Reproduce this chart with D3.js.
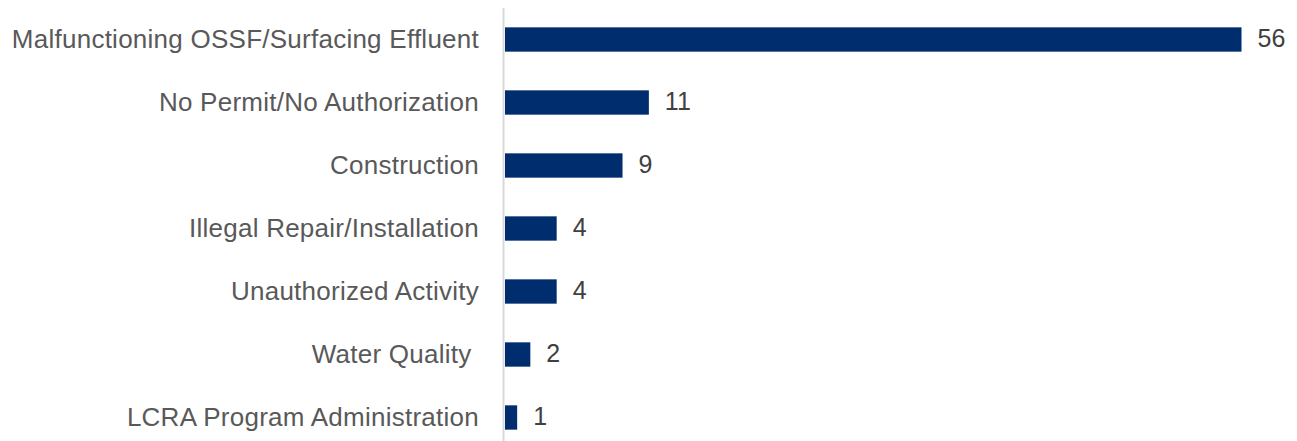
<!DOCTYPE html>
<html>
<head>
<meta charset="utf-8">
<script src="https://cdn.jsdelivr.net/npm/d3@7"></script>
<style>
  html, body { margin: 0; padding: 0; background: #ffffff; }
  svg { display: block; }
  text { font-family: "Liberation Sans", Arial, sans-serif; white-space: pre; }
</style>
</head>
<body>
<svg id="chart" width="1297" height="441"></svg>
<script>
const categories = [
  "Malfunctioning OSSF/Surfacing Effluent",
  "No Permit/No Authorization",
  "Construction",
  "Illegal Repair/Installation",
  "Unauthorized Activity",
  "Water Quality ",
  "LCRA Program Administration"
];
const values = [56, 11, 9, 4, 4, 2, 1];

const svg = d3.select("#chart");
const x0 = 504;
const x = d3.scaleLinear().domain([0, 56]).range([x0, 1241.5]);
const y = d3.scaleBand().domain(categories).range([8, 449]).paddingInner(0.614).paddingOuter(0.307);

// vertical axis line
svg.append("line")
  .attr("x1", 503.5).attr("x2", 503.5)
  .attr("y1", 8).attr("y2", 441)
  .attr("stroke", "#d9d9d9").attr("stroke-width", 2);

svg.selectAll("rect.bar").data(values).enter().append("rect")
  .attr("class", "bar")
  .attr("x", x(0) + 1)
  .attr("y", (d, i) => y(categories[i]))
  .attr("width", d => x(d) - x(0) - 1)
  .attr("height", y.bandwidth())
  .attr("fill", "#002d6e");

svg.selectAll("text.cat").data(categories).enter().append("text")
  .attr("class", "cat")
  .attr("x", 479)
  .attr("y", d => y(d) + y.bandwidth() / 2)
  .attr("dy", "0.32em")
  .attr("text-anchor", "end")
  .attr("font-size", 26)
  .attr("letter-spacing", 0.25)
  .attr("fill", "#595959")
  .text(d => d);

svg.selectAll("text.val").data(values).enter().append("text")
  .attr("class", "val")
  .attr("x", d => x(d) + 16)
  .attr("y", (d, i) => y(categories[i]) + y.bandwidth() / 2)
  .attr("dy", "0.31em")
  .attr("font-size", 25)
  .attr("fill", "#404040")
  .text(d => d);
</script>
</body>
</html>
